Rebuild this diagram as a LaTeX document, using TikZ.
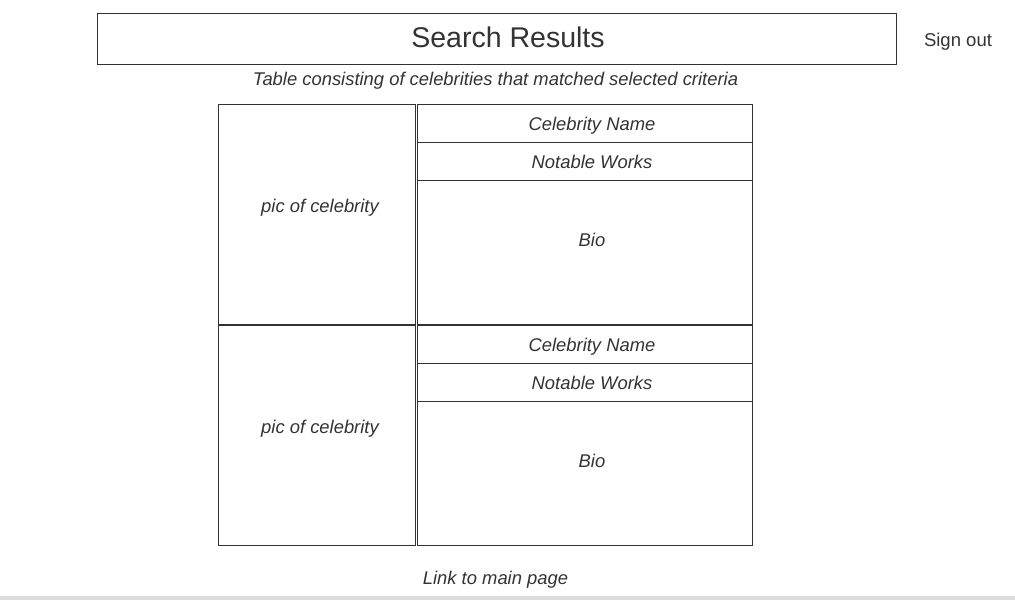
\documentclass[tikz,border=0pt]{standalone}
\usepackage{fontspec}
\setmainfont{Liberation Sans}
\definecolor{ink}{HTML}{333333}
\definecolor{bar}{HTML}{DDDDDD}
\begin{document}
\begin{tikzpicture}[x=0.75pt,y=-0.75pt,
  cell/.style={draw=ink, line width=0.75pt, rectangle, inner sep=0pt},
  lbl/.style={text=ink, font=\fontsize{13.8pt}{16pt}\selectfont\itshape, inner sep=0pt, anchor=base},
]
\useasboundingbox (0,0) rectangle (1015,600);
\fill[white] (0,0) rectangle (1015,600);
\fill[bar] (0,596) rectangle (1015,600);
% header
\node[cell, minimum width=599.25pt, minimum height=38.25pt] (hdr) at (497,39) {};
\node[text=ink, font=\fontsize{21.4pt}{24pt}\selectfont, inner sep=0pt, anchor=base] (hdrt) at (508,47.3) {Search Results};
\node[text=ink, font=\fontsize{13.9pt}{16pt}\selectfont, inner sep=0pt, anchor=base] (signout) at (958,46.3) {Sign out};
\node[lbl] (sub) at (495.5,85.7) {Table consisting of celebrities that matched selected criteria};
% row 1
\node[cell, minimum width=147.75pt, minimum height=165pt] (pic1) at (317,214.5) {};
\node[cell, minimum width=251.25pt, minimum height=28.5pt] (name1) at (585,123.5) {};
\node[cell, minimum width=251.25pt, minimum height=28.5pt] (works1) at (585,161.5) {};
\node[cell, minimum width=251.25pt, minimum height=108pt] (bio1) at (585,252.5) {};
% row 2
\node[cell, minimum width=147.75pt, minimum height=165pt] (pic2) at (317,435.5) {};
\node[cell, minimum width=251.25pt, minimum height=28.5pt] (name2) at (585,344.5) {};
\node[cell, minimum width=251.25pt, minimum height=28.5pt] (works2) at (585,382.5) {};
\node[cell, minimum width=251.25pt, minimum height=108pt] (bio2) at (585,473.5) {};
% labels
\node[lbl] (pic1t) at (320,212) {pic of celebrity};
\node[lbl] (name1t) at (592,130) {Celebrity Name};
\node[lbl] (works1t) at (592,168.3) {Notable Works};
\node[lbl] (bio1t) at (592,246) {Bio};
\node[lbl] (pic2t) at (320,433) {pic of celebrity};
\node[lbl] (name2t) at (592,351) {Celebrity Name};
\node[lbl] (works2t) at (592,389.3) {Notable Works};
\node[lbl] (bio2t) at (592,467) {Bio};
\node[lbl] (link) at (495.5,584) {Link to main page};
\end{tikzpicture}
\end{document}
